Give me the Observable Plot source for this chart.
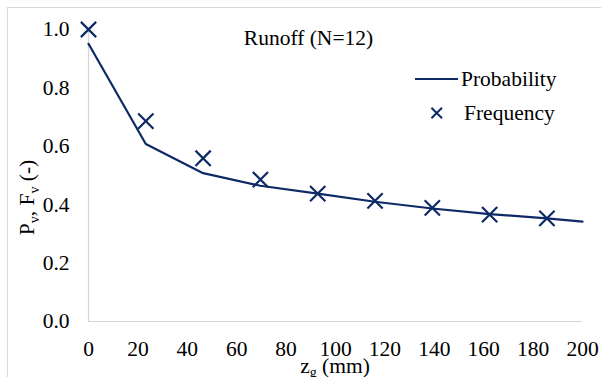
<!DOCTYPE html>
<html>
<head>
<meta charset="utf-8">
<script src="https://cdn.jsdelivr.net/npm/d3@7"></script>
<script src="https://cdn.jsdelivr.net/npm/@observablehq/plot@0.6"></script>
<style>
  html, body { margin: 0; padding: 0; background: #fff; overflow: hidden; }
  #chart { position: relative; width: 601px; height: 377px; }
</style>
</head>
<body>
<div id="chart"></div>
<script>
// ---- Data ----
const freqX = [0, 23.2, 46.4, 69.6, 92.8, 116, 139.2, 162.4, 185.6];
const freqY = [1.0, 0.686, 0.559, 0.486, 0.438, 0.413, 0.389, 0.366, 0.353];
const probX = [0, 23.2, 46.4, 69.6, 92.8, 116, 139.2, 162.4, 185.6, 200];
const probY = [0.951, 0.608, 0.508, 0.465, 0.438, 0.410, 0.387, 0.368, 0.353, 0.342];
const xTicks = [0, 20, 40, 60, 80, 100, 120, 140, 160, 180, 200];
const yTicks = [0, 0.2, 0.4, 0.6, 0.8, 1.0];
const titleText = "Runoff (N=12)";
const seriesNames = ["Probability", "Frequency"];

const navy = "#0e2a66";
const axisGray = "#d6d6d6";
const font = "Liberation Serif";

const freqData = freqX.map((x, i) => ({x, y: freqY[i]}));
const probData = probX.map((x, i) => ({x, y: probY[i]}));

const W = 601, H = 377;
const chart = Plot.plot({
  width: W,
  height: H,
  marginLeft: 88,
  marginRight: 19,
  marginTop: 29,
  marginBottom: 56,
  style: {fontFamily: font, fontSize: "21.5px", color: "#000", background: "white"},
  x: {domain: [0, 200], ticks: xTicks, tickSize: 0, tickPadding: 19, label: null},
  y: {domain: [0, 1], ticks: yTicks, tickSize: 0, tickPadding: 19, tickFormat: d3.format(".1f"), label: null},
  marks: [
    Plot.ruleY([0], {stroke: axisGray, strokeWidth: 1.2}),
    Plot.ruleX([0], {y1: 0, y2: 1, stroke: axisGray, strokeWidth: 1.2}),
    Plot.line(probData, {x: "x", y: "y", stroke: navy, strokeWidth: 2.2}),
    Plot.dot(freqData, {x: "x", y: "y", symbol: "times", r: 7, stroke: navy, strokeWidth: 2.2})
  ]
});

const svg = d3.select(chart);

// outer chart border
svg.insert("rect", ":first-child")
  .attr("x", 7.5).attr("y", 7.5).attr("width", 620).attr("height", 420)
  .attr("fill", "none").attr("stroke", "#d9d9d9").attr("stroke-width", 1);

// title
svg.append("text")
  .attr("x", 308.5).attr("y", 45)
  .attr("text-anchor", "middle")
  .attr("font-family", font).attr("font-size", 21.5).attr("fill", "#000")
  .text(titleText);

// legend
const lg = svg.append("g").attr("font-family", font).attr("font-size", 21.5).attr("fill", "#000").attr("text-anchor", "start");
lg.append("line").attr("x1", 415).attr("x2", 458).attr("y1", 79).attr("y2", 79)
  .attr("stroke", navy).attr("stroke-width", 2.2);
lg.append("text").attr("x", 461).attr("y", 86).text(seriesNames[0]);
const mx = 436.7, my = 113, ms = 5.3;
lg.append("path")
  .attr("d", `M${mx-ms},${my-ms}L${mx+ms},${my+ms}M${mx-ms},${my+ms}L${mx+ms},${my-ms}`)
  .attr("stroke", navy).attr("stroke-width", 2).attr("fill", "none");
lg.append("text").attr("x", 464).attr("y", 120).text(seriesNames[1]);

// y axis label: P_v, F_v (-)
const yl = svg.append("text")
  .attr("transform", "translate(34,197.5) rotate(-90)")
  .attr("text-anchor", "middle")
  .attr("font-family", font).attr("font-size", 21.5).attr("fill", "#000");
yl.append("tspan").text("P");
yl.append("tspan").attr("font-size", 14).attr("dy", 5).text("v");
yl.append("tspan").attr("dy", -5).text(", F");
yl.append("tspan").attr("font-size", 14).attr("dy", 5).text("v");
yl.append("tspan").attr("dy", -5).text(" (-)");

// x axis label: z_g (mm)
const xl = svg.append("text")
  .attr("x", 335).attr("y", 373)
  .attr("text-anchor", "middle")
  .attr("font-family", font).attr("font-size", 21.5).attr("fill", "#000");
xl.append("tspan").text("z");
xl.append("tspan").attr("font-size", 14).attr("dy", 4).text("g");
xl.append("tspan").attr("dy", -4).text(" (mm)");

document.getElementById("chart").appendChild(chart);
</script>
</body>
</html>
